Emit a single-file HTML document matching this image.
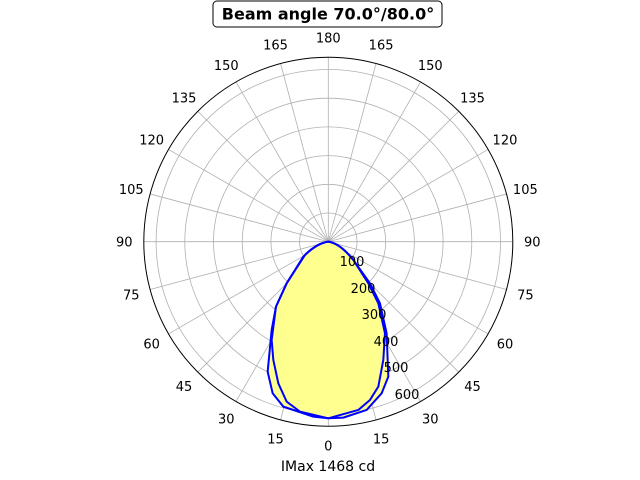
<!DOCTYPE html>
<html><head><meta charset="utf-8"><style>
body{margin:0;background:#fff}
svg{display:block;font-family:"DejaVu Sans","Liberation Sans",sans-serif}
</style></head><body>
<svg width="640" height="480" viewBox="0 0 640 480" xmlns="http://www.w3.org/2000/svg">
<g id="grid" stroke="#b0b0b0" stroke-width="0.8" fill="none">
<circle cx="328.3" cy="241.7" r="28.7"/>
<circle cx="328.3" cy="241.7" r="57.4"/>
<circle cx="328.3" cy="241.7" r="86.1"/>
<circle cx="328.3" cy="241.7" r="114.8"/>
<circle cx="328.3" cy="241.7" r="143.5"/>
<circle cx="328.3" cy="241.7" r="172.2"/>
</g>
<g stroke="#b0b0b0" stroke-width="0.8" id="spokes"></g>
<g transform="translate(140,40) scale(0.3333)">
<path d="M565,605 Q530,610 490,650 L440,730 L408,800 L395,870 L383,995 L398,1060 L430,1100 L520,1130 L565,1135 L610,1133 L680,1110 L725,1060 L745,1010 L740,880 L720,790 L690,730 L640,660 Q600,610 565,605 Z" fill="#ffff90" stroke="none"/>
<path d="M565,605 Q530,610 495,645 L440,730 L408,800 L395,900 L400,960 L415,1030 L440,1085 L480,1115 L565,1135 L655,1110 L690,1080 L715,1040 L730,960 L735,880 L715,790 L685,730 L640,660 Q600,610 565,605 Z" fill="#ffff90" stroke="none"/>
<path d="M565,605 Q530,610 490,650 L440,730 L408,800 L395,870 L383,995 L398,1060 L430,1100 L520,1130 L565,1135 L610,1133 L680,1110 L725,1060 L745,1010 L740,880 L720,790 L690,730 L640,660 Q600,610 565,605 Z" fill="none" stroke="#0000ff" stroke-width="6" stroke-linejoin="round"/>
<path d="M565,605 Q530,610 495,645 L440,730 L408,800 L395,900 L400,960 L415,1030 L440,1085 L480,1115 L565,1135 L655,1110 L690,1080 L715,1040 L730,960 L735,880 L715,790 L685,730 L640,660 Q600,610 565,605 Z" fill="none" stroke="#0000ff" stroke-width="6" stroke-linejoin="round"/>
</g>
<circle cx="328.3" cy="241.7" r="184.5" fill="none" stroke="#000" stroke-width="1"/>
<g font-size="13" fill="#000" text-anchor="middle" id="alabels"></g>
<g font-size="13" fill="#000" text-anchor="middle">
<text x="352" y="266">100</text>
<text x="363" y="293">200</text>
<text x="374" y="319">300</text>
<text x="386" y="346">400</text>
<text x="396" y="372">500</text>
<text x="407" y="399">600</text>
</g>
<rect x="213" y="1" width="229" height="26" rx="4" fill="#fff" stroke="#000" stroke-width="1"/>
<text x="328" y="19.5" font-size="16" font-weight="bold" text-anchor="middle">Beam angle 70.0°/80.0°</text>
<text x="328" y="471" font-size="14" text-anchor="middle">IMax 1468 cd</text>
<script>
var cx=328.3,cy=241.7,sp=document.getElementById('spokes'),al=document.getElementById('alabels'),ns='http://www.w3.org/2000/svg';
for(var a=0;a<360;a+=15){var t=a*Math.PI/180;var l=document.createElementNS(ns,'line');
l.setAttribute('x1',cx);l.setAttribute('y1',cy);l.setAttribute('x2',cx+184.5*Math.sin(t));l.setAttribute('y2',cy+184.5*Math.cos(t));sp.appendChild(l);
var v=a<=180?a:360-a;var tx=document.createElementNS(ns,'text');tx.setAttribute('x',cx+204*Math.sin(t));tx.setAttribute('y',cy+204*Math.cos(t)+5);tx.textContent=v;al.appendChild(tx);}
</script>
</svg>
</body></html>
